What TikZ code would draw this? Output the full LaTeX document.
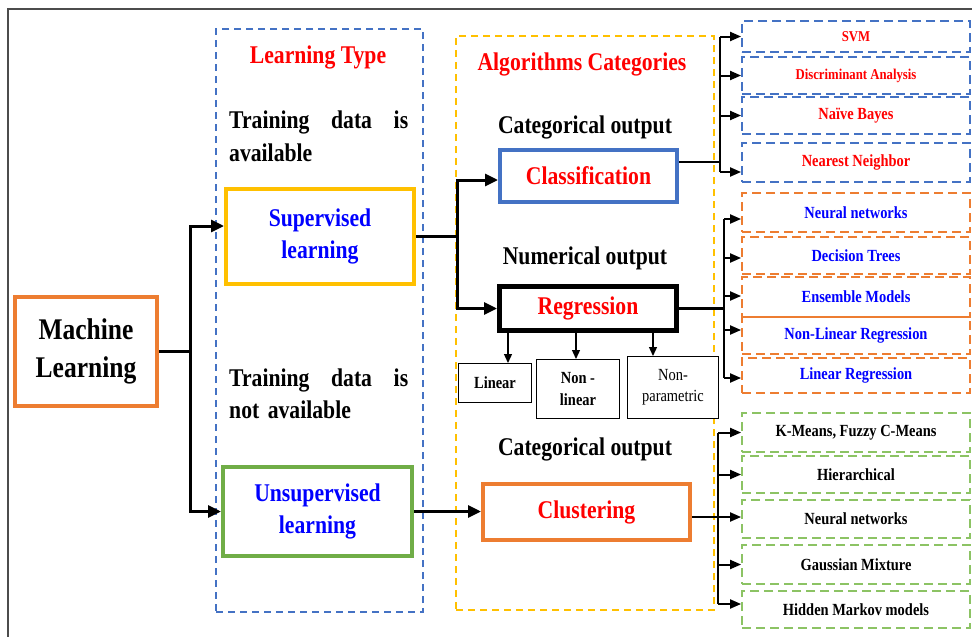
\documentclass[tikz,border=0pt]{standalone}
\usepackage{fontspec}
\setmainfont{Liberation Serif}[FakeStretch=0.85]
\usetikzlibrary{arrows.meta}
\definecolor{cblue}{RGB}{68,114,196}
\definecolor{cyel}{RGB}{255,192,0}
\definecolor{corange}{RGB}{237,125,49}
\definecolor{cgreen}{RGB}{112,173,71}
\definecolor{cdgreen}{RGB}{140,195,100}
\definecolor{cred}{RGB}{255,0,0}
\definecolor{tblue}{RGB}{0,0,255}
\newcommand{\mainsz}{\fontsize{25.5}{32}\selectfont\bfseries}
\newcommand{\mlsz}{\fontsize{30}{38}\selectfont\bfseries}
\newcommand{\smsz}{\fontsize{17}{22}\selectfont\bfseries}
\newcommand{\tinysz}{\fontsize{15}{18}\selectfont\bfseries}
\tikzset{
  tbox/.style={draw, line width=4pt, inner sep=0pt, align=center},
  subbox/.style={draw, fill=white, line width=1pt, inner sep=0pt, align=center, font=\smsz},
  cont/.style={draw, line width=1.5pt, dash pattern=on 7pt off 5pt, inner sep=0pt},
  rbox/.style={draw, line width=1.8pt, dash pattern=on 9pt off 5pt, inner sep=0pt, minimum width=228pt, font=\smsz},
  arr/.style={line width=3pt, -{Triangle[length=13pt,width=12pt]}},
  conn/.style={line width=3pt},
  rarr/.style={line width=2pt, -{Triangle[length=11pt,width=9pt]}},
  rconn/.style={line width=1.6pt},
  darr/.style={line width=1.3pt, -{Triangle[length=9pt,width=8pt]}},
  lbl/.style={inner sep=0pt, anchor=base, font=\mainsz}
}
\begin{document}
\begin{tikzpicture}[x=1pt,y=-1pt]
\useasboundingbox (0,0) rectangle (972,637);
\fill[white] (0,0) rectangle (972,637);
% frame
\coordinate (fr1) at (972,9);
\coordinate (fr2) at (8,9);
\coordinate (fr3) at (8,637);
\draw[line width=1.5pt, black!70] (fr1) -- (fr2) -- (fr3);

% containers
\node (ltbox) [cont, cblue, minimum width=207pt, minimum height=583pt] at (319.5,320.5) {};
\node (acbox) [cont, cyel, minimum width=258pt, minimum height=574pt] at (585,323) {};

% headings and labels
\node (lt) [lbl, text=cred] at (318,63) {Learning Type};
\node (ac) [lbl, text=cred] at (582,70) {Algorithms Categories};
\node (co1) [lbl] at (585,133) {Categorical output};
\node (no) [lbl] at (585,264) {Numerical output};
\node (co2) [lbl] at (585,455) {Categorical output};
\node (td1) [inner sep=0pt, anchor=north west, text width=179pt, align=left, font=\fontsize{25.5}{33}\selectfont\bfseries] at (229,110.5) {Training\hfill data\hfill is\\available};
\node (td2) [inner sep=0pt, anchor=north west, text width=179pt, align=left, font=\fontsize{25.5}{32}\selectfont\bfseries] at (229,368.5) {Training\hfill data\hfill is\\not available};

% main boxes
\node (ML) [tbox, draw=corange, minimum width=142pt, minimum height=109pt, font=\mlsz] at (86,351.5) {Machine\\Learning};
\node (Sup) [tbox, draw=cyel, minimum width=188pt, minimum height=95pt, font=\mainsz, text=tblue] at (320,236.5) {Supervised\\learning};
\node (Uns) [tbox, draw=cgreen, minimum width=189pt, minimum height=89pt, font=\mainsz, text=tblue] at (317.5,511.5) {Unsupervised\\learning};
\node (Cls) [tbox, draw=cblue, minimum width=177pt, minimum height=52pt, font=\mainsz, text=cred] at (588.5,176) {Classification};
\node (Reg) [tbox, draw=black, line width=5pt, minimum width=177pt, minimum height=44pt, font=\mainsz, text=cred] at (588,308.5) {Regression};
\node (Clu) [tbox, draw=corange, minimum width=207pt, minimum height=56pt, font=\mainsz, text=cred] at (586.5,512) {Clustering};

% regression sub boxes
\node (Lin) [subbox, minimum width=73pt, minimum height=39pt] at (495,383) {Linear};
\node (NLin) [subbox, minimum width=83pt, minimum height=59pt] at (578,389) {Non -\\linear};
\node (NPar) [subbox, minimum width=91pt, minimum height=62pt, font=\fontsize{17}{21}\selectfont] at (673,387.5) {Non-\\parametric};

% right column: classification
\node (SVM) [rbox, draw=cblue, text=cred, minimum height=31pt, font=\tinysz] at (856,36.5) {SVM};
\node (DA) [rbox, draw=cblue, text=cred, minimum height=37pt, font=\tinysz] at (856,75.5) {Discriminant Analysis};
\node (NB) [rbox, draw=cblue, text=cred, minimum height=37pt] at (856,115.5) {Naïve Bayes};
\node (NNb) [rbox, draw=cblue, text=cred, minimum height=39pt] at (856,162.5) {Nearest Neighbor};
% right column: regression
\node (NNet) [rbox, draw=corange, text=tblue, minimum height=39pt] at (856,212.5) {Neural networks};
\node (DT) [rbox, draw=corange, text=tblue, minimum height=37pt] at (856,255.5) {Decision Trees};
\node (EM) [rbox, draw=corange, text=tblue, minimum height=40pt] at (856,297) {Ensemble Models};
\node (NLR) [rbox, draw=corange, text=tblue, minimum height=37pt] at (856,335.5) {Non-Linear Regression};
\node (LR) [rbox, draw=corange, text=tblue, minimum height=35pt] at (856,375.5) {Linear Regression};
% right column: clustering
\node (KM) [rbox, draw=cdgreen, minimum height=39pt] at (856,432.5) {K-Means, Fuzzy C-Means};
\node (Hi) [rbox, draw=cdgreen, minimum height=37pt] at (856,474.5) {Hierarchical};
\node (NNc) [rbox, draw=cdgreen, minimum height=38pt] at (856,519) {Neural networks};
\node (GM) [rbox, draw=cdgreen, minimum height=39pt] at (856,564.5) {Gaussian Mixture};
\node (HM) [rbox, draw=cdgreen, minimum height=37pt] at (856,609.5) {Hidden Markov models};

% junction coordinates
\coordinate (mj) at (190,0);
\coordinate (sj) at (457,0);
\coordinate (cj) at (720,0);
\coordinate (rj) at (724,0);
\coordinate (kj) at (718,0);
% shifted anchor points
\coordinate (supin) at ([yshift=10.5pt]Sup.west);
\coordinate (clsin) at ([yshift=-4pt]Cls.west);
\coordinate (clsout) at ([yshift=14pt]Cls.east);
\coordinate (nnbin) at ([yshift=-9.5pt]NNb.west);
\coordinate (nnetin) at ([yshift=-6.5pt]NNet.west);
\coordinate (dtin) at ([yshift=-2.5pt]DT.west);
\coordinate (emin) at ([yshift=1pt]EM.west);
\coordinate (nlrin) at ([yshift=5.5pt]NLR.west);
\coordinate (lrin) at ([yshift=-2.5pt]LR.west);
\coordinate (cluout) at ([yshift=-5pt]Clu.east);
\coordinate (nncin) at ([yshift=2pt]NNc.west);
\coordinate (hmin) at ([yshift=5.5pt]HM.west);

% ML -> supervised / unsupervised
\draw[conn] (ML.east) -- (mj |- ML.east);
\draw[arr] (mj |- ML.east) |- (supin);
\draw[arr] (mj |- ML.east) |- (Uns.west);

% supervised -> classification / regression
\draw[conn] (Sup.east) -- (sj |- Sup.east);
\draw[arr] (sj |- Sup.east) |- (clsin);
\draw[arr] (sj |- Sup.east) |- (Reg.west);

% unsupervised -> clustering
\draw[arr] (Uns.east) -- (Uns.east -| Clu.west);

% regression -> sub boxes
\path (Lin.north) ++(13,0) coordinate (d1);
\path (NLin.north) ++(-2,0) coordinate (d2);
\path (NPar.north) ++(-20,0) coordinate (d3);
\draw[darr] (d1 |- Reg.south) -- (d1);
\draw[darr] (d2 |- Reg.south) -- (d2);
\draw[darr] (d3 |- Reg.south) -- (d3);

% classification -> algorithms
\draw[line width=2.5pt] (clsout) -- (cj |- clsout);
\draw[rconn] (cj |- SVM.west) -- (cj |- nnbin);
\draw[rarr] (cj |- SVM.west) -- (SVM.west);
\draw[rarr] (cj |- DA.west) -- (DA.west);
\draw[rarr] (cj |- NB.west) -- (NB.west);
\draw[rarr] (cj |- nnbin) -- (nnbin);

% regression -> algorithms
\draw[line width=2.2pt] (Reg.east) -- (rj |- Reg.east);
\draw[rconn] (rj |- nnetin) -- (rj |- lrin);
\draw[rarr] (rj |- nnetin) -- (nnetin);
\draw[rarr] (rj |- dtin) -- (dtin);
\draw[rarr] (rj |- emin) -- (emin);
\draw[rarr] (rj |- nlrin) -- (nlrin);
\draw[rarr] (rj |- lrin) -- (lrin);

% clustering -> algorithms
\draw[line width=2.2pt] (cluout) -- (kj |- cluout);
\draw[rconn] (kj |- KM.west) -- (kj |- hmin);
\draw[rarr] (kj |- KM.west) -- (KM.west);
\draw[rarr] (kj |- Hi.west) -- (Hi.west);
\draw[rarr] (kj |- nncin) -- (nncin);
\draw[rarr] (kj |- GM.west) -- (GM.west);
\draw[rarr] (kj |- hmin) -- (hmin);
\end{tikzpicture}
\end{document}
